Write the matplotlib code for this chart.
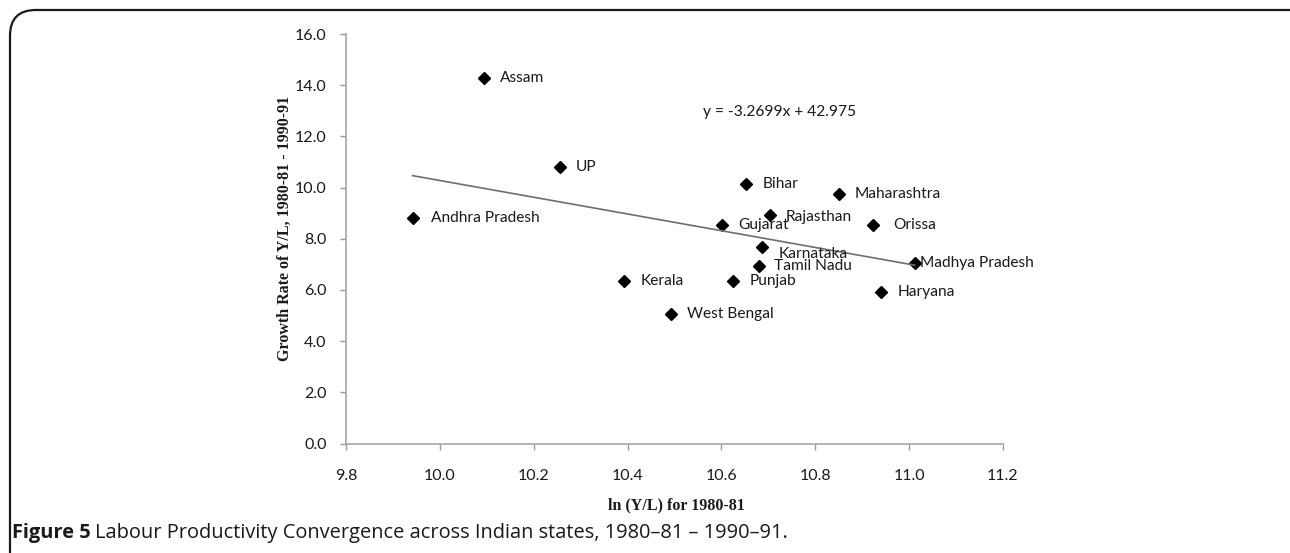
import matplotlib
matplotlib.use("Agg")
import matplotlib.pyplot as plt
from matplotlib.patches import FancyBboxPatch
import numpy as np

# ---- data ----
states = ["Assam", "UP", "Andhra Pradesh", "Bihar", "Maharashtra", "Rajasthan",
          "Gujarat", "Orissa", "Karnataka", "Tamil Nadu", "Madhya Pradesh",
          "Kerala", "Punjab", "Haryana", "West Bengal"]
ln_yl = [10.094, 10.256, 9.942, 10.653, 10.850, 10.703,
         10.602, 10.923, 10.687, 10.679, 11.012,
         10.393, 10.625, 10.941, 10.492]
growth = [14.27, 10.80, 8.83, 10.15, 9.73, 8.93,
          8.55, 8.52, 7.69, 6.93, 7.06,
          6.34, 6.36, 5.92, 5.06]
slope = -3.2699
intercept = 42.975
x_ticks = [9.8, 10.0, 10.2, 10.4, 10.6, 10.8, 11.0, 11.2]
y_ticks = [0, 2, 4, 6, 8, 10, 12, 14, 16]

# label offsets in points (style)
label_offsets = {"Andhra Pradesh": (13.5, 0), "Orissa": (14.5, 0),
                 "Madhya Pradesh": (3.5, 0), "Karnataka": (11.5, -5.5),
                 "Rajasthan": (11.5, -1.5)}

W, H = 1290, 553
fig = plt.figure(figsize=(W / 100, H / 100), dpi=100)
fig.patch.set_facecolor("white")

# frame with rounded top-left corner
frame = FancyBboxPatch((10 / W, -0.2), 1.2, (H - 10) / H + 0.2,
                       boxstyle="round,pad=0,rounding_size=0.02",
                       transform=fig.transFigure, fill=False,
                       edgecolor="#1a1a1a", linewidth=1.6, mutation_aspect=W / H)
fig.add_artist(frame)

ax = fig.add_axes([346 / W, 1 - 443.5 / H, (1003 - 346) / W, (443.5 - 34) / H])
font = "Lato"

ax.plot(ln_yl, growth, linestyle="none", marker="D", markersize=6,
        color="black")

xs = np.array([min(ln_yl), max(ln_yl)])
ax.plot(xs, slope * xs + intercept, color="#6e6e6e", linewidth=1.2)

for s, x, y in zip(states, ln_yl, growth):
    off = label_offsets.get(s, (11.5, 0))
    ax.annotate(s, (x, y), xytext=off, textcoords="offset points",
                ha="left", va="center", fontsize=11.2, family=font,
                color="#1a1a1a")

ax.text(10.723, 12.96, f"y = {slope}x + {intercept}", ha="center", va="center",
        fontsize=11.2, family=font, color="#1a1a1a")

ax.set_xlim(9.8, 11.2)
ax.set_ylim(0, 16)
ax.set_xticks(x_ticks)
ax.set_yticks(y_ticks)
ax.set_xticklabels([f"{v:.1f}" for v in x_ticks], family=font, fontsize=11.5)
ax.set_yticklabels([f"{v:.1f}" for v in y_ticks], family=font, fontsize=11.5)
ax.tick_params(axis="both", colors="#9a9a9a", labelcolor="#1a1a1a",
               length=4, width=1)
ax.tick_params(axis="x", pad=14)
ax.tick_params(axis="y", pad=10)
for sp in ["top", "right"]:
    ax.spines[sp].set_visible(False)
for sp in ["left", "bottom"]:
    ax.spines[sp].set_color("#a6a6a6")
    ax.spines[sp].set_linewidth(1.2)

fig.text(285 / W, 1 - 228 / H, "Growth Rate of Y/L, 1980-81 - 1990-91",
         rotation=90, ha="center", va="center", family="Liberation Serif",
         fontweight="bold", fontsize=11.5, color="#1a1a1a")
fig.text(676 / W, 1 - 505 / H, "ln (Y/L) for 1980-81", ha="center",
         va="center", family="Liberation Serif", fontweight="bold",
         fontsize=11.5, color="#1a1a1a")

cap_y = 1 - 533 / H
t1 = fig.text(12 / W, cap_y, "Figure 5", ha="left", va="center",
              family="Open Sans", fontweight="bold", fontsize=14.4,
              color="#1a1a1a")
fig.canvas.draw()
bb = t1.get_window_extent()
fig.text((bb.x1 + 4) / W, cap_y,
         "Labour Productivity Convergence across Indian states, 1980–81 – 1990–91.",
         ha="left", va="center", family="Open Sans", fontsize=14.4,
         color="#1a1a1a")

fig.savefig("out.png", dpi=100, facecolor="white")
